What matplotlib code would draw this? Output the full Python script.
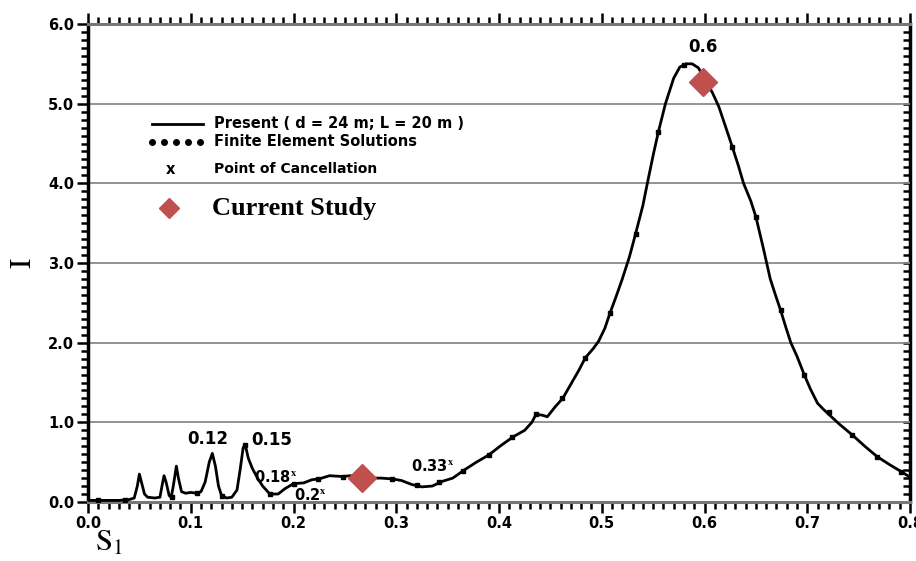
import matplotlib
matplotlib.use("Agg")
import matplotlib.pyplot as plt
from matplotlib.ticker import MultipleLocator, FormatStrFormatter
from matplotlib.font_manager import FontProperties

plt.rcParams['mathtext.fontset'] = 'stix'

# Response curve I(S1) (solid line)
s1_curve = [0.000, 0.010, 0.020, 0.030, 0.040, 0.045, 0.048, 0.050, 0.052, 0.055,
            0.058, 0.065, 0.070, 0.072, 0.074, 0.076, 0.079, 0.081, 0.083, 0.086,
            0.088, 0.091, 0.095, 0.100, 0.106, 0.110, 0.114, 0.118, 0.121, 0.124,
            0.127, 0.130, 0.135, 0.140, 0.145, 0.148, 0.151, 0.153, 0.156, 0.160,
            0.165, 0.170, 0.177, 0.185, 0.192, 0.200, 0.210, 0.218, 0.225, 0.235,
            0.248, 0.255, 0.265, 0.275, 0.285, 0.296, 0.305, 0.315, 0.325, 0.335,
            0.345, 0.355, 0.366, 0.378, 0.390, 0.402, 0.414, 0.425, 0.432, 0.436,
            0.442, 0.447, 0.455, 0.462, 0.470, 0.478, 0.484, 0.492, 0.497, 0.503,
            0.508, 0.514, 0.520, 0.527, 0.533, 0.540, 0.545, 0.550, 0.555, 0.562,
            0.570, 0.576, 0.582, 0.588, 0.594, 0.600, 0.608, 0.614, 0.620, 0.627,
            0.633, 0.638, 0.645, 0.650, 0.657, 0.664, 0.669, 0.674, 0.679, 0.684,
            0.690, 0.697, 0.703, 0.710, 0.716, 0.721, 0.731, 0.744, 0.756, 0.768,
            0.780, 0.793, 0.800]
i_curve = [0.02, 0.02, 0.02, 0.02, 0.03, 0.05, 0.20, 0.35, 0.25, 0.10,
           0.06, 0.05, 0.06, 0.20, 0.33, 0.25, 0.08, 0.06, 0.20, 0.45,
           0.30, 0.13, 0.11, 0.12, 0.11, 0.13, 0.25, 0.50, 0.61, 0.45,
           0.20, 0.08, 0.05, 0.06, 0.15, 0.40, 0.68, 0.72, 0.55, 0.42,
           0.30, 0.20, 0.10, 0.10, 0.17, 0.23, 0.24, 0.28, 0.29, 0.33,
           0.32, 0.33, 0.32, 0.30, 0.30, 0.29, 0.27, 0.22, 0.19, 0.20,
           0.26, 0.30, 0.40, 0.50, 0.59, 0.71, 0.82, 0.90, 1.00, 1.10,
           1.09, 1.07, 1.20, 1.30, 1.48, 1.66, 1.81, 1.93, 2.02, 2.18,
           2.37, 2.58, 2.80, 3.08, 3.37, 3.72, 4.04, 4.35, 4.64, 5.00,
           5.32, 5.46, 5.50, 5.50, 5.45, 5.32, 5.13, 4.96, 4.73, 4.46,
           4.22, 4.00, 3.78, 3.58, 3.20, 2.80, 2.60, 2.41, 2.20, 2.00,
           1.83, 1.60, 1.42, 1.24, 1.16, 1.10, 0.98, 0.84, 0.70, 0.57,
           0.47, 0.37, 0.31]

# Finite element solutions (dots)
s1_fe = [0.010, 0.036, 0.082, 0.106, 0.130, 0.153, 0.177, 0.200, 0.224, 0.248,
         0.296, 0.320, 0.342, 0.365, 0.390, 0.413, 0.436, 0.461, 0.484, 0.508,
         0.533, 0.555, 0.580, 0.627, 0.650, 0.674, 0.697, 0.721, 0.744, 0.768,
         0.791]
i_fe = [0.02, 0.03, 0.06, 0.11, 0.08, 0.72, 0.10, 0.23, 0.29, 0.32,
        0.29, 0.21, 0.25, 0.39, 0.59, 0.82, 1.10, 1.30, 1.81, 2.37,
        3.37, 4.64, 5.48, 4.46, 3.58, 2.41, 1.60, 1.13, 0.84, 0.57,
        0.38]

# Current study
s1_cur = [0.2665, 0.599]
i_cur = [0.30, 5.27]

# Resonance peak labels: (text, x, y) -- left/bottom anchored
peak_labels = [("0.6", 0.584, 5.60), ("0.12", 0.097, 0.68), ("0.15", 0.159, 0.66)]
# Points of cancellation: (text, x, y) -- centre anchored
cancel_labels = [("0.18", 0.183, 0.32), ("0.2", 0.216, 0.09), ("0.33", 0.335, 0.45)]

fig = plt.figure(figsize=(9.16, 5.61), dpi=100)
ax = fig.add_axes([88/916, 1 - 502/561, 822/916, 478/561])

ax.set_xlim(0.0, 0.8)
ax.set_ylim(0.0, 6.0)

for yv in range(1, 6):
    ax.axhline(yv, color='#8a8a8a', lw=1.3, zorder=1)

ax.plot(s1_curve, i_curve, color='black', lw=2.0, zorder=3)
ax.plot(s1_fe, i_fe, linestyle='none', marker='s', ms=3.5, color='black', zorder=4)
ax.plot(s1_cur, i_cur, linestyle='none', marker='D', ms=14, color='#C0504D',
        markeredgecolor='#C0504D', zorder=5)

for txt, x, y in peak_labels:
    ax.text(x, y, txt, ha='left', va='bottom', fontsize=12, family='DejaVu Sans',
            weight='semibold')
for txt, x, y in cancel_labels:
    ax.text(x, y, txt + r'$^{\mathbf{x}}$', ha='center', va='center', fontsize=10.5,
            family='DejaVu Sans', weight='bold')

# Axis styling
tick_font = dict(family='DejaVu Sans', weight='bold', size=10.5)
ax.xaxis.set_major_locator(MultipleLocator(0.1))
ax.xaxis.set_minor_locator(MultipleLocator(0.01))
ax.yaxis.set_major_locator(MultipleLocator(1.0))
ax.yaxis.set_minor_locator(MultipleLocator(0.1))
ax.xaxis.set_major_formatter(FormatStrFormatter('%.1f'))
ax.yaxis.set_major_formatter(FormatStrFormatter('%.1f'))
ax.tick_params(axis='x', which='both', direction='out', top=True, bottom=True,
               width=1.8, color='black')
ax.tick_params(axis='x', which='major', length=8, pad=2)
ax.tick_params(axis='x', which='minor', length=5)
ax.tick_params(axis='y', which='both', direction='out', left=True, right=False,
               width=1.8, color='black')
ax.tick_params(axis='y', which='major', length=8, pad=2)
ax.tick_params(axis='y', which='minor', length=5)
for lbl in ax.get_xticklabels() + ax.get_yticklabels():
    lbl.set_fontproperties(FontProperties(**tick_font))

right = ax.secondary_yaxis('right')
right.yaxis.set_major_locator(MultipleLocator(1.0))
right.yaxis.set_minor_locator(MultipleLocator(0.1))
right.tick_params(which='both', direction='in', length=5, width=1.8, labelright=False)
right.spines['right'].set_linewidth(2.5)

ax.spines['left'].set_linewidth(2.5)
ax.spines['top'].set_linewidth(2.2)
ax.spines['top'].set_color('#777777')
ax.spines['bottom'].set_linewidth(2.2)
ax.spines['bottom'].set_color('#777777')
ax.spines['right'].set_visible(False)

ax.set_xlabel(r'$\mathrm{S}_1$', fontsize=22)
ax.xaxis.set_label_coords(0.025, -0.055)
ax.set_ylabel(r'$\mathrm{I}$', fontsize=22)
ax.yaxis.label.set_verticalalignment('center')
ax.yaxis.label.set_horizontalalignment('center')
ax.yaxis.set_label_coords(-0.08, 0.5)

# Legend block, positioned in axes fraction
leg_font = dict(family='DejaVu Sans', weight='bold', size=10.5)
tA = ax.transAxes
def fx(px):
    return (px - 88) / 822
def fy(py):
    return (502 - py) / 478

ax.plot([fx(152), fx(203)], [fy(124), fy(124)], color='black', lw=2, transform=tA)
ax.text(fx(214), fy(124), 'Present ( d = 24 m; L = 20 m )', transform=tA,
        va='center', ha='left', **leg_font)
ax.plot([fx(152 + k * 12) for k in range(5)], [fy(142)] * 5, linestyle='none',
        marker='o', ms=4, color='black', transform=tA)
ax.text(fx(214), fy(142), 'Finite Element Solutions', transform=tA,
        va='center', ha='left', **leg_font)
ax.text(fx(170), fy(169), 'x', transform=tA, va='center', ha='center', **leg_font)
ax.text(fx(214), fy(169), 'Point of Cancellation', transform=tA,
        va='center', ha='left', family='DejaVu Sans', weight='semibold', size=10)
ax.plot([fx(169)], [fy(208)], marker='D', ms=10, color='#C0504D', transform=tA)
ax.text(fx(212), fy(208), 'Current Study', transform=tA, va='center', ha='left',
        family='Liberation Serif', weight='bold', size=19)

fig.savefig('out.png', dpi=100)
